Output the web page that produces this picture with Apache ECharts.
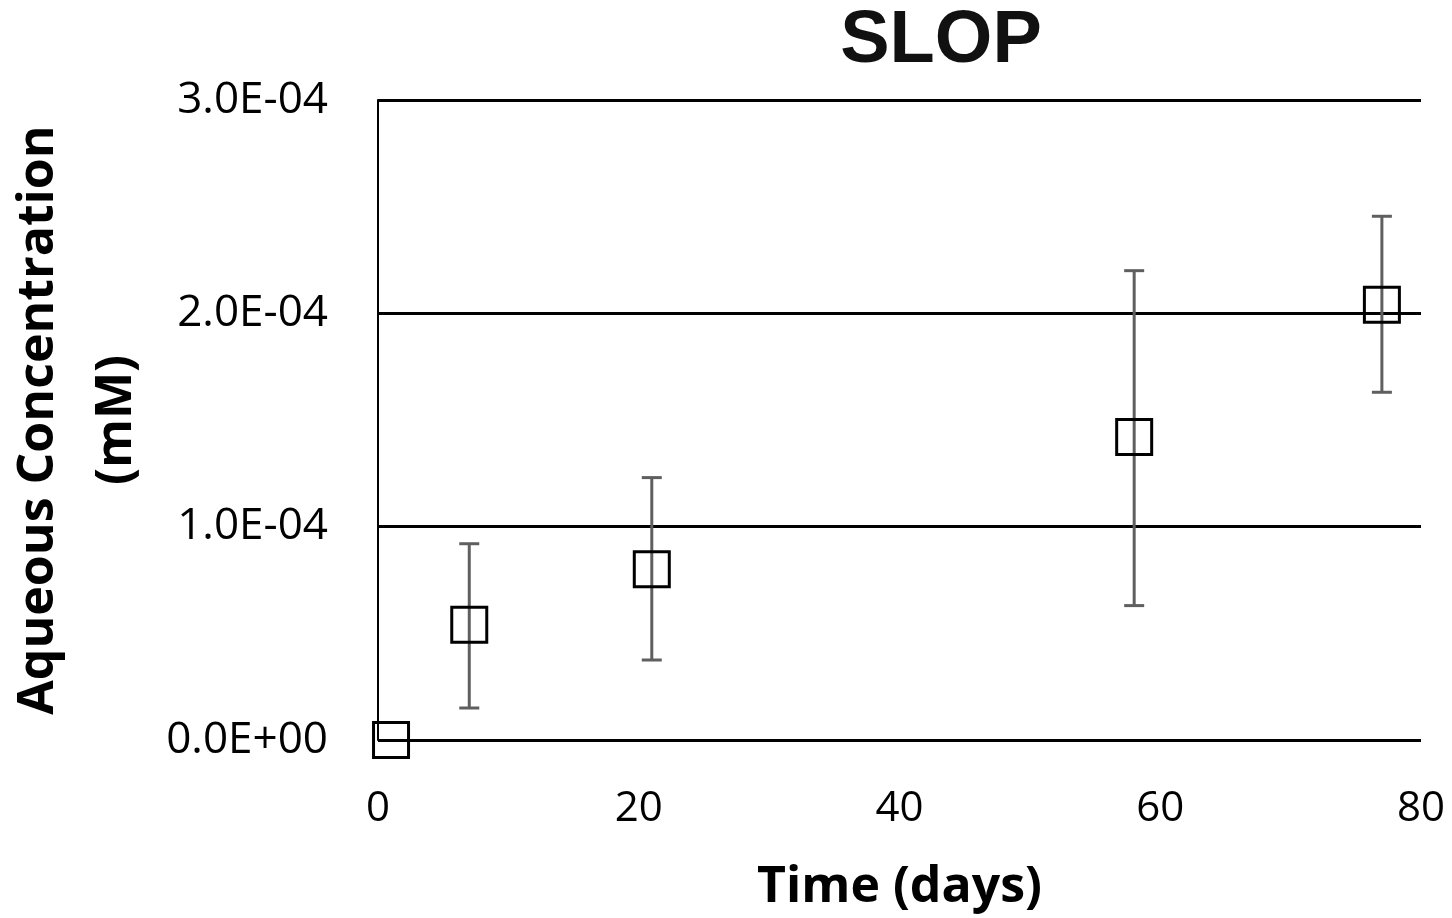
<!DOCTYPE html>
<html>
<head>
<meta charset="utf-8">
<script src="https://cdn.jsdelivr.net/npm/echarts@6/dist/echarts.min.js"></script>
<style>
  html, body { margin: 0; padding: 0; background: #fff; }
  #chart { width: 1452px; height: 918px; }
</style>
</head>
<body>
<div id="chart"></div>
<script>
const days = [1, 7, 21, 58, 77]
const conc = [0, 5.4e-5, 8.0e-5, 1.42e-4, 2.04e-4]
const errLow = [0, 1.5e-5, 3.75e-5, 6.3e-5, 1.63e-4]
const errHigh = [0, 9.2e-5, 1.23e-4, 2.2e-4, 2.455e-4]
const yTicks = ['0.0E+00', '1.0E-04', '2.0E-04', '3.0E-04']

const myChart = echarts.init(document.getElementById('chart'))

const barData = days.map((d, i) => [d, errLow[i], errHigh[i]])
const pointData = days.map((d, i) => [d, conc[i]])

myChart.setOption({
  animation: false,
  title: {
    text: 'SLOP',
    left: 936,
    textAlign: 'center',
    top: 0,
    textStyle: { fontFamily: 'Liberation Sans', fontWeight: 'bold', fontSize: 74, color: '#111' }
  },
  grid: { left: 378, right: 31, top: 100, bottom: 178, containLabel: false, outerBoundsMode: 'none' },
  xAxis: {
    type: 'value',
    min: 0,
    max: 80,
    interval: 20,
    name: 'Time (days)',
    nameLocation: 'middle',
    nameGap: 123,
    nameTextStyle: { fontFamily: 'Open Sans', fontWeight: 'bold', fontSize: 50, color: '#000' },
    axisLine: { show: false },
    axisTick: { show: false },
    splitLine: { show: false },
    axisLabel: { margin: 48, fontFamily: 'Open Sans', fontSize: 42, color: '#000' }
  },
  yAxis: {
    type: 'value',
    min: 0,
    max: 3e-4,
    interval: 1e-4,
    name: 'Aqueous Concentration\n(mM)',
    nameLocation: 'middle',
    nameGap: 220,
    nameTextStyle: { fontFamily: 'Open Sans', fontWeight: 'bold', fontSize: 50, lineHeight: 78, color: '#000' },
    axisLine: { show: true, lineStyle: { color: '#000', width: 2 } },
    axisTick: { show: false },
    splitLine: { show: true, lineStyle: { color: '#000', width: 3 } },
    axisLabel: {
      margin: 50,
      fontFamily: 'Open Sans',
      fontSize: 44,
      color: '#000',
      formatter: (v) => yTicks[Math.round(v / 1e-4)]
    }
  },
  series: [
    {
      type: 'custom',
      data: barData,
      z: 1,
      renderItem: (params, api) => {
        const x = api.value(0)
        const lo = api.coord([x, api.value(1)])
        const hi = api.coord([x, api.value(2)])
        if (api.value(1) === api.value(2)) return null
        const cap = 10
        const style = { stroke: '#5f5f5f', lineWidth: 3 }
        return {
          type: 'group',
          children: [
            { type: 'line', shape: { x1: lo[0], y1: lo[1], x2: hi[0], y2: hi[1] }, style },
            { type: 'line', shape: { x1: hi[0] - cap, y1: hi[1], x2: hi[0] + cap, y2: hi[1] }, style },
            { type: 'line', shape: { x1: lo[0] - cap, y1: lo[1], x2: lo[0] + cap, y2: lo[1] }, style }
          ]
        }
      }
    },
    {
      type: 'scatter',
      data: pointData,
      z: 3,
      symbol: 'rect',
      symbolSize: 35,
      itemStyle: { color: 'rgba(0,0,0,0)', borderColor: '#000', borderWidth: 3, opacity: 1 }
    }
  ]
})
</script>
</body>
</html>
